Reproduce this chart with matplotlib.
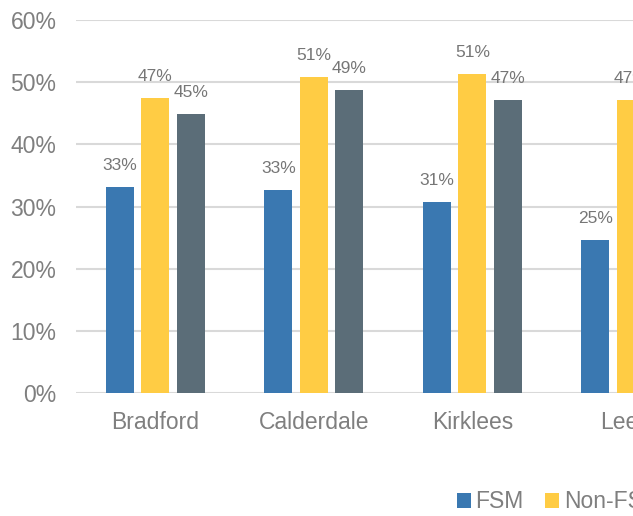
import matplotlib
matplotlib.use("Agg")
import matplotlib.pyplot as plt
import numpy as np
from matplotlib.patches import Patch

plt.rcParams['font.family'] = ['Liberation Sans', 'DejaVu Sans']

categories = ["Bradford", "Calderdale", "Kirklees", "Leeds"]
series_names = ["FSM", "Non-FSM", "All"]
fsm = [33.1, 32.6, 30.7, 24.6]
non_fsm = [47.4, 50.8, 51.3, 47.1]
all_pupils = [44.9, 48.7, 47.1, 45.0]
yticks = [0, 10, 20, 30, 40, 50, 60]

colors = ["#3A78B1", "#FFCC44", "#5B6D78"]
grey = "#7F7F7F"

fig = plt.figure(figsize=(6.33, 5.16), dpi=100)
ax = fig.add_axes([76/633, 123/516, (633-76)/633, 373/516])

x = np.arange(len(categories))
width = 0.177
offset = 0.224
for i, (vals, c) in enumerate(zip([fsm, non_fsm, all_pupils], colors)):
    pos = x + (i - 1) * offset
    ax.bar(pos, vals, width, color=c, zorder=3, label=series_names[i])
    for p, v in zip(pos, vals):
        ax.annotate(f"{v:.0f}%", (p, v), xytext=(0, 10), textcoords="offset points",
                    ha="center", va="bottom", fontsize=12.5, color="#767676",
                    annotation_clip=False)

ax.set_ylim(0, 60)
ax.set_xlim(-0.5, 3.013)
ax.set_yticks(yticks)
ax.set_yticklabels([f"{t}%" for t in yticks], fontsize=16.5, color=grey)
ax.set_xticks(x)
ax.set_xticklabels(categories, fontsize=16.5, color=grey)
ax.tick_params(axis='both', length=0)
ax.tick_params(axis='y', pad=14)
ax.tick_params(axis='x', pad=13)
ax.grid(axis='y', color="#D9D9D9", linewidth=1.5, zorder=0)
for s in ax.spines.values():
    s.set_visible(False)

handles = [Patch(facecolor=c) for c in colors]
fig.legend(handles, series_names, loc="center left", bbox_to_anchor=(457/633, 1 - 502/516),
           ncol=3, frameon=False, fontsize=16.5, labelcolor=grey,
           handlelength=0.6, handleheight=0.6, handletextpad=0.2, columnspacing=0.95,
           borderaxespad=0, borderpad=0)

fig.savefig("out.png", dpi=100)
